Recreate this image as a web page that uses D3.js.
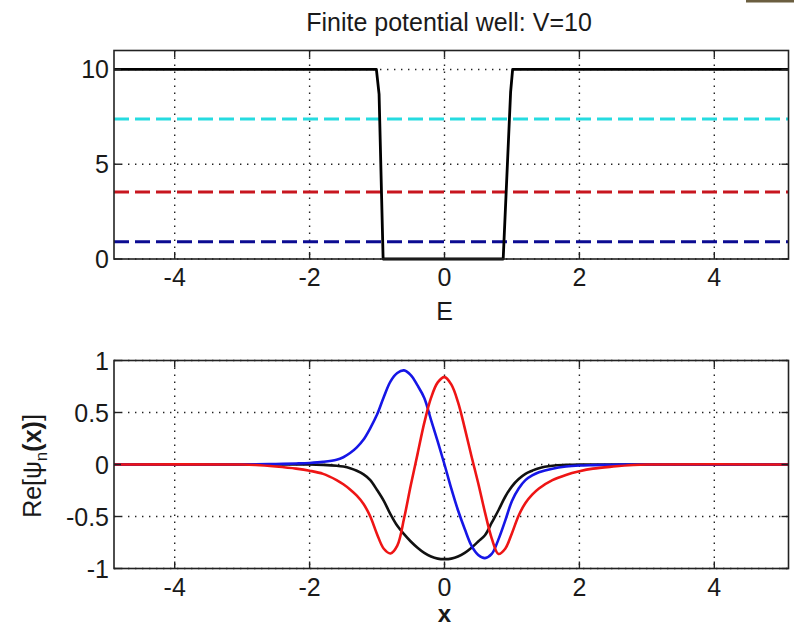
<!DOCTYPE html>
<html>
<head>
<meta charset="utf-8">
<script src="https://cdn.jsdelivr.net/npm/d3@7"></script>
<style>
  html, body { margin: 0; padding: 0; background: #fff; }
  svg { display: block; }
  text { font-family: "Liberation Sans", Arial, sans-serif; fill: #1a1a1a; }
</style>
</head>
<body>
<svg id="fig" width="794" height="629"></svg>
<script>
// ---- data ----
const xTicks = [-4, -2, 0, 2, 4];
const potTicks = [0, 5, 10];
const psiTicks = [-1, -0.5, 0, 0.5, 1];
const psiTickLabels = ["-1", "-0.5", "0", "0.5", "1"];

// potential V(x), well of depth 10
const potX = [-4.9, -1.01, -0.97, -0.91, 0.87, 0.98, 1.01, 5.1];
const potV = [10, 10, 8.7, 0, 0, 8.8, 10, 10];

// bound-state energies
const energies = [0.91, 3.54, 7.38];
const energyColors = ["#0b0b92", "#c8161f", "#26dbe0"];

// wavefunctions Re[psi_n(x)]
const psiX = [-4.9, -3.0, -2.8, -2.5, -2.2, -2.0, -1.8, -1.6, -1.5, -1.4, -1.3, -1.2, -1.1, -1.0,
  -0.9, -0.8, -0.7, -0.6, -0.5, -0.4, -0.3, -0.2, -0.1, 0, 0.1, 0.2, 0.3, 0.4, 0.5, 0.6, 0.7,
  0.8, 0.9, 1.0, 1.1, 1.2, 1.3, 1.4, 1.6, 1.8, 2.0, 2.2, 2.5, 2.8, 3.0, 5.1];
const psi1 = [0, 0, 0, 0, 0, 0, -0.004, -0.012, -0.02, -0.035, -0.06, -0.095, -0.15, -0.245,
  -0.35, -0.48, -0.59, -0.67, -0.74, -0.80, -0.85, -0.885, -0.905, -0.91, -0.905, -0.885, -0.85, -0.80, -0.74, -0.68, -0.56,
  -0.44, -0.31, -0.21, -0.14, -0.09, -0.06, -0.035, -0.012, -0.004, 0, 0, 0, 0, 0, 0];
const psi2 = [0, 0, 0.002, 0.005, 0.01, 0.015, 0.025, 0.045, 0.07, 0.11, 0.165, 0.24, 0.35, 0.48,
  0.65, 0.80, 0.88, 0.905, 0.86, 0.76, 0.64, 0.43, 0.22, 0, -0.23, -0.44, -0.62, -0.78, -0.87, -0.90, -0.86,
  -0.72, -0.54, -0.35, -0.23, -0.15, -0.105, -0.075, -0.04, -0.02, -0.01, -0.006, -0.002, 0, 0, 0];
const psi3 = [0, 0, -0.005, -0.02, -0.04, -0.06, -0.09, -0.15, -0.19, -0.24, -0.30, -0.38, -0.50, -0.67,
  -0.81, -0.855, -0.78, -0.52, -0.20, 0.10, 0.40, 0.64, 0.79, 0.84, 0.77, 0.60, 0.35, 0.08, -0.18, -0.46, -0.71,
  -0.86, -0.81, -0.66, -0.49, -0.37, -0.29, -0.23, -0.15, -0.10, -0.065, -0.04, -0.02, -0.005, 0, 0];
const psiSeries = [psi1, psi2, psi3];
const psiColors = ["#111111", "#1616e6", "#ee1515"];

// ---- layout ----
const svg = d3.select("#fig");
const xDomain = [-4.9, 5.1];
const left = 114, right = 788.5;

const top1 = 50.5, bot1 = 259;
const top2 = 360.5, bot2 = 568.5;

const x = d3.scaleLinear().domain(xDomain).range([left, right]);
const yPot = d3.scaleLinear().domain([0, 11]).range([bot1, top1]);
const yPsi = d3.scaleLinear().domain([-1, 1]).range([bot2, top2]);

// small strip at the top-right corner
svg.append("rect").attr("x", 746).attr("y", 0).attr("width", 48).attr("height", 2.5)
  .attr("fill", "#6b5e40");

function drawGrid(y, yTicks, top, bot) {
  const g = svg.append("g");
  g.selectAll(".gx").data(xTicks).join("line")
    .attr("x1", d => x(d)).attr("x2", d => x(d))
    .attr("y1", top).attr("y2", bot)
    .attr("stroke", "#222").attr("stroke-width", 1.4)
    .attr("stroke-dasharray", "1.4,5.6");
  g.selectAll(".gy").data(yTicks).join("line")
    .attr("x1", left).attr("x2", right)
    .attr("y1", d => y(d)).attr("y2", d => y(d))
    .attr("stroke", "#222").attr("stroke-width", 1.4)
    .attr("stroke-dasharray", "1.4,5.6");
}

function drawAxes(y, yTicks, yLabels, top, bot) {
  const g = svg.append("g");
  const tl = 7;
  // inward ticks on all four sides
  xTicks.forEach(t => {
    g.append("line").attr("x1", x(t)).attr("x2", x(t)).attr("y1", bot).attr("y2", bot - tl)
      .attr("stroke", "#222").attr("stroke-width", 1.4);
    g.append("line").attr("x1", x(t)).attr("x2", x(t)).attr("y1", top).attr("y2", top + tl)
      .attr("stroke", "#222").attr("stroke-width", 1.4);
  });
  yTicks.forEach(t => {
    g.append("line").attr("x1", left).attr("x2", left + tl).attr("y1", y(t)).attr("y2", y(t))
      .attr("stroke", "#222").attr("stroke-width", 1.4);
    g.append("line").attr("x1", right).attr("x2", right - tl).attr("y1", y(t)).attr("y2", y(t))
      .attr("stroke", "#222").attr("stroke-width", 1.4);
  });
  g.append("rect").attr("x", left).attr("y", top)
    .attr("width", right - left).attr("height", bot - top)
    .attr("fill", "none").attr("stroke", "#222").attr("stroke-width", 1.6);
  // tick labels
  g.selectAll(".xl").data(xTicks).join("text")
    .attr("x", d => x(d)).attr("y", bot + 27)
    .attr("text-anchor", "middle").attr("font-size", 25)
    .text(d => d < 0 ? "-" + Math.abs(d) : String(d));
  g.selectAll(".yl").data(yTicks).join("text")
    .attr("x", left - 5).attr("y", d => y(d) + 9)
    .attr("text-anchor", "end").attr("font-size", 25)
    .text((d, i) => yLabels[i]);
}

// ---- top panel: potential and energy levels ----
drawGrid(yPot, potTicks, top1, bot1);
const eLine = svg.append("g");
energies.forEach((e, i) => {
  eLine.append("path")
    .datum(xDomain)
    .attr("d", d3.line().x(d => x(d)).y(() => yPot(e)))
    .attr("fill", "none").attr("stroke", energyColors[i]).attr("stroke-width", 3)
    .attr("stroke-dasharray", "15,6");
});
const potLine = d3.line().x((d, i) => x(potX[i])).y(d => yPot(d));
svg.append("path").datum(potV).attr("d", potLine)
  .attr("fill", "none").attr("stroke", "#000").attr("stroke-width", 2.8)
  .attr("stroke-linejoin", "round");
drawAxes(yPot, potTicks, potTicks.map(String), top1, bot1);

svg.append("text").attr("x", 449).attr("y", 31)
  .attr("text-anchor", "middle").attr("font-size", 25)
  .text("Finite potential well: V=10");
svg.append("text").attr("x", x(0)).attr("y", 320)
  .attr("text-anchor", "middle").attr("font-size", 25).text("E");

// ---- bottom panel: wavefunctions ----
drawGrid(yPsi, psiTicks, top2, bot2);
svg.append("clipPath").attr("id", "clipPsi")
  .append("rect").attr("x", left).attr("y", top2).attr("width", right - left).attr("height", bot2 - top2);
const psiLine = d3.line().x((d, i) => x(psiX[i])).y(d => yPsi(d)).curve(d3.curveCatmullRom.alpha(0.5));
svg.append("g").attr("clip-path", "url(#clipPsi)")
  .selectAll("path").data(psiSeries).join("path")
  .attr("d", psiLine)
  .attr("fill", "none")
  .attr("stroke", (d, i) => psiColors[i])
  .attr("stroke-width", 2.6)
  .attr("stroke-linejoin", "round");
drawAxes(yPsi, psiTicks, psiTickLabels, top2, bot2);

svg.append("text").attr("x", x(0)).attr("y", 622)
  .attr("text-anchor", "middle").attr("font-size", 24).attr("font-weight", "bold").text("x");

const yl = svg.append("text")
  .attr("transform", "translate(41,466) rotate(-90)")
  .attr("text-anchor", "middle").attr("font-size", 25);
yl.append("tspan").text("Re[");
yl.append("tspan").text("ψ");
yl.append("tspan").attr("font-size", 17).attr("dy", 6).text("n");
yl.append("tspan").attr("dy", -6).attr("font-weight", "bold").text("(x)");
yl.append("tspan").text("]");
</script>
</body>
</html>
